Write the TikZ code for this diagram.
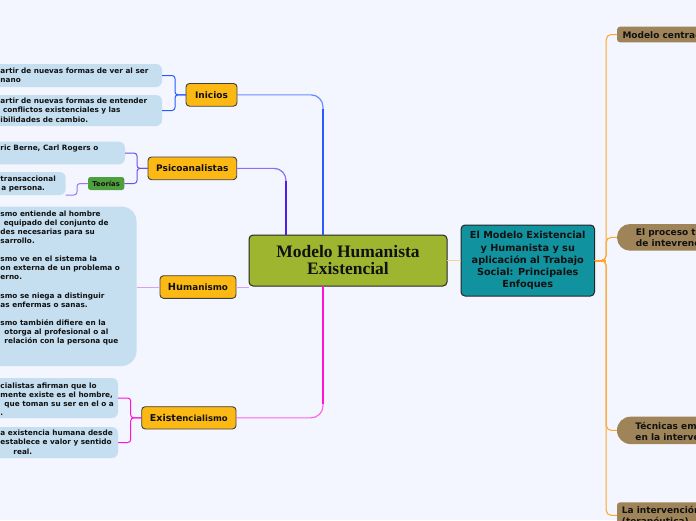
\documentclass[tikz,border=0pt]{standalone}
\usepackage{fontspec}
\setmainfont{DejaVu Sans}
\newfontfamily\serifb{Liberation Serif}
\usetikzlibrary{calc}
\definecolor{bg}{RGB}{243,246,254}
\definecolor{leafc}{RGB}{197,223,240}
\definecolor{branchc}{RGB}{253,185,19}
\definecolor{olivec}{RGB}{158,181,48}
\definecolor{tealc}{RGB}{17,146,159}
\definecolor{brownc}{RGB}{158,132,88}
\definecolor{greenc}{RGB}{78,160,60}
\definecolor{cblue}{RGB}{40,90,255}
\definecolor{cviolet}{RGB}{80,30,235}
\definecolor{clilac}{RGB}{215,160,245}
\definecolor{cmag}{RGB}{255,20,210}
\definecolor{corange}{RGB}{255,165,40}
\definecolor{corangel}{RGB}{255,205,140}
\definecolor{txt}{RGB}{17,17,17}
\begin{document}
\begin{tikzpicture}[x=1pt,y=-1pt,
  box/.style={anchor=north west, inner sep=0pt, outer sep=0pt},
  branch/.style={box, fill=branchc, draw=black!75, line width=0.9pt, rounded corners=3.5pt, font=\fontsize{9}{11}\selectfont\bfseries, text=txt},
  leafbox/.style={box, fill=leafc, rounded corners=6pt},
  leaftext/.style={anchor=west, inner sep=0pt, align=left, font=\fontsize{7.3}{9.1}\selectfont\bfseries, text=txt},
  rbox/.style={box, fill=brownc, minimum width=120pt},
  rtext/.style={anchor=west, inner sep=0pt, align=left, font=\fontsize{9}{11}\selectfont\bfseries, text=txt},
  thinc/.style={line width=1pt, rounded corners=#1},
]
\useasboundingbox (0,0) rectangle (696,520);
\fill[bg] (0,0) rectangle (696,520);

% central nodes
\node[box, fill=olivec, draw=black!85, line width=1pt, rounded corners=4pt, minimum width=198pt, minimum height=51pt, align=center, text=txt, font=\serifb\fontsize{17.5}{17}\selectfont\bfseries] (cen) at (249,235) {Modelo Humanista\\Existencial};
\node[box, fill=tealc, draw=black!85, line width=1pt, rounded corners=4pt, minimum width=133.5pt, minimum height=71pt, align=center, text=txt, font=\fontsize{9.7}{12.1}\selectfont\bfseries] (top) at (461,225) {El Modelo Existencial\\y Humanista y su\\aplicación al Trabajo\\Social: Principales\\Enfoques};

% branches
\node[branch, minimum width=51pt, minimum height=22.7pt] (ini) at (186,83.5) {Inicios};
\node[branch, minimum width=88.7pt, minimum height=22.7pt] (psi) at (148,157) {Psicoanalistas};
\node[branch, minimum width=76pt, minimum height=22.6pt] (hum) at (160,275.7) {{\fontsize{9.8}{11}\selectfont Hu}{\fontsize{8.8}{11}\selectfont manismo}};
\node[branch, minimum width=94.3pt, minimum height=22.3pt] (exi) at (141.7,406.7) {{\fontsize{9.5}{11}\selectfont Existe}{\fontsize{8.5}{11}\selectfont ncialismo}};
\node[box, fill=greenc, rounded corners=2.5pt, minimum width=36.3pt, minimum height=13pt, font=\fontsize{6.8}{8}\selectfont\bfseries, text=txt] (teo) at (88,177) {Teorías};

% leaves
\node[leafbox, minimum width=192pt, minimum height=23pt] (l1) at (-30,64) {};
\node[leaftext] (l1t) at (0.3,75.5) {artir de nuevas formas de ver al ser\\nano};
\node[leafbox, minimum width=192pt, minimum height=31pt] (l2) at (-30,95) {};
\node[leaftext] (l2t) at (0.3,110.2) {artir de nuevas formas de entender\\\hspace*{2.5pt}conflictos existenciales y las\\ibilidades de cambio.};
\node[leafbox, minimum width=155pt, minimum height=22.6pt] (p1) at (-30,141.7) {};
\node[leaftext] (p1t) at (0.3,149) {ric Berne, Carl Rogers o};
\node[leafbox, minimum width=95.7pt, minimum height=23pt] (tl) at (-30,172) {};
\node[leaftext] (tlt) at (0.3,183.7) {transaccional\\\hspace*{1pt}a persona.};
\node[leafbox, rounded corners=15pt, minimum width=166.5pt, minimum height=159.5pt] (hl) at (-30,206.5) {};
\node[leaftext] (hlt) at (0.3,277.8) {smo entiende al hombre\\
\hspace*{3.3pt}equipado del conjunto de\\
des necesarias para su\\
sarrollo.\\
\mbox{}\\
smo ve en el sistema la\\
on externa de un problema o\\
erno.\\
\mbox{}\\
smo se niega a distinguir\\
as enfermas o sanas.\\
\mbox{}\\
smo también difiere en la\\
\hspace*{4pt}otorga al profesional o al\\
\hspace*{4pt}relación con la persona que};
\node[leafbox, minimum width=148pt, minimum height=40pt] (e1) at (-30,378) {};
\node[leaftext] (e1t) at (0.3,399) {cialistas afirman que lo\\mente existe es el hombre,\\\hspace*{4pt}que toman su ser en el o a\\.};
\node[leafbox, minimum width=148pt, minimum height=31pt] (e2) at (-30,427) {};
\node[leaftext] (e2t) at (0.3,442.2) {a existencia humana desde\\establece e valor y sentido\\\hspace*{13pt}real.};

% right side nodes
\node[rbox, rounded corners=3pt, minimum height=15.6pt] (r1) at (617,26.7) {};
\node[rtext] (r1t) at (622.3,35) {Modelo centrad};
\node[rbox, rounded corners=13pt, minimum height=26.7pt] (r2) at (617,224) {};
\node[rtext] (r2t) at (635.7,237.6) {El proceso te\\de intevrenc};
\node[rbox, rounded corners=13.5pt, minimum height=27.3pt] (r3) at (617,416.7) {};
\node[rtext] (r3t) at (635.2,431) {Técnicas em\\en la interve};
\node[rbox, rounded corners=3pt, minimum height=26pt] (r4) at (617,502.3) {};
\node[rtext] (r4t) at (621.7,516.5) {La intervención\\(terapéutica)};

% main connectors (left)
\draw[cblue!70, line width=1.2pt, rounded corners=12pt] (ini.east) -| ([xshift=74pt]cen.north west);
\draw[cblue, line width=2.3pt] ([xshift=74pt]cen.north west) -- ++(0,-126);
\draw[cviolet!65, line width=1.2pt, rounded corners=12pt] (psi.east) -| ([xshift=37pt]cen.north west);
\draw[cviolet, line width=2.3pt] ([xshift=37pt]cen.north west) -- ++(0,-54);
\draw[clilac, line width=1pt] (hum.east) -- (hum.east -| cen.west);
\draw[cmag!65, line width=1.2pt, rounded corners=12pt] (exi.east) -| ([xshift=74pt]cen.south west);
\draw[cmag, line width=2.3pt] ([xshift=74pt]cen.south west) -- ++(0,118);

% leaf connectors
\draw[cblue, thinc=3pt] (ini.west) -- ++(-11,0) |- (l1.east);
\draw[cblue, thinc=3pt] (ini.west) -- ++(-11,0) |- (l2.east);
\draw[cviolet!80, thinc=3pt] (psi.west) -- ++(-11,0) |- (p1.east);
\draw[cviolet!80, thinc=3pt] (psi.west) -- ++(-11,0) |- (teo.east);
\draw[cviolet!60, thinc=3pt] (teo.west) -- ++(-11,0) |- (tl.south east);
\draw[clilac, line width=1pt] (hum.west) -- (hl.east |- hum.west);
\draw[cmag, thinc=3pt] (exi.west) -- ++(-11,0) |- (e1.east);
\draw[cmag, thinc=3pt] (exi.west) -- ++(-11,0) |- (e2.east);

% right connectors
\draw[corangel, line width=1pt] (cen.east) -- (top.west);
\draw[corange, thinc=5pt] (top.east) -- ++(11.7,0) |- (r1.west);
\draw[corange, thinc=5pt] (top.east) -- ++(11.7,0) |- (r2.west);
\draw[corange, thinc=5pt] (top.east) -- ++(11.7,0) |- (r3.west);
\draw[corange, thinc=5pt] (top.east) -- ++(11.7,0) |- (r4.west);
\draw[corange, line width=2pt] (top.east) -- ++(11.7,0);
\end{tikzpicture}
\end{document}
